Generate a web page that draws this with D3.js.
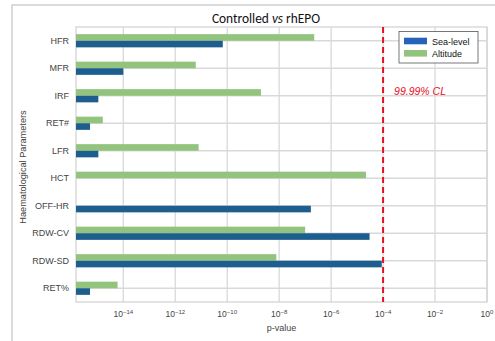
<!DOCTYPE html>
<html><head><meta charset="utf-8">
<script src="https://cdn.jsdelivr.net/npm/d3@7"></script>
<style>body{margin:0;background:#fff;} svg{display:block;}</style>
</head><body>
<script>
const categories = ["HFR","MFR","IRF","RET#","LFR","HCT","OFF-HR","RDW-CV","RDW-SD","RET%"];
// log10(p-value); null = no bar
const altitudeLog = [-6.65,-11.21,-8.70,-14.79,-11.10,-4.66,null,-7.0,-8.11,-14.22];
const seaLevelLog = [-10.17,-14.0,-14.96,-15.28,-14.96,null,-6.78,-4.52,-4.05,-15.28];
const tickExps = [-14,-12,-10,-8,-6,-4,-2,0];
const clExp = -4;
const seriesNames = ["Sea-level","Altitude"];

const W=495,H=341;
const svg=d3.select("body").append("svg").attr("width",W).attr("height",H);
const m={l:76,r:487,t:27,b:302};
const x=d3.scaleLog().domain([Math.pow(10,-15.82),1]).range([m.l,m.r]);
const y=d3.scaleBand().domain(categories).range([m.t,m.b]);
const barH=6.6;
const cBlue="#1d5e8f", cGreen="#93c47d", cLegBlue="#2563b8";

// outer frame
svg.append("rect").attr("x",12).attr("y",5).attr("width",W).attr("height",H).attr("fill","none").attr("stroke","#cfcfcf").attr("stroke-width",1.5);

// grid
const g=svg.append("g");
tickExps.forEach(e=>{
  g.append("line").attr("x1",x(Math.pow(10,e))).attr("x2",x(Math.pow(10,e))).attr("y1",m.t).attr("y2",m.b).attr("stroke","#d9d9d9").attr("stroke-width",1.3);
});
categories.forEach(c=>{
  const yc=y(c)+y.bandwidth()/2;
  g.append("line").attr("x1",m.l).attr("x2",m.r).attr("y1",yc).attr("y2",yc).attr("stroke","#d9d9d9").attr("stroke-width",1.3);
});
svg.append("rect").attr("x",m.l).attr("y",m.t).attr("width",m.r-m.l).attr("height",m.b-m.t).attr("fill","none").attr("stroke","#d4d4d4").attr("stroke-width",1.3);

// bars
const x0=x.range()[0];
categories.forEach((c,i)=>{
  const yc=y(c)+y.bandwidth()/2;
  if(altitudeLog[i]!==null){
    svg.append("rect").attr("x",x0).attr("y",yc-barH).attr("width",x(Math.pow(10,altitudeLog[i]))-x0).attr("height",barH).attr("fill",cGreen);
  }
  if(seaLevelLog[i]!==null){
    svg.append("rect").attr("x",x0).attr("y",yc).attr("width",x(Math.pow(10,seaLevelLog[i]))-x0).attr("height",barH).attr("fill",cBlue);
  }
});

// CL line
svg.append("line").attr("x1",x(Math.pow(10,clExp))).attr("x2",x(Math.pow(10,clExp))).attr("y1",m.t).attr("y2",m.b)
  .attr("stroke","#e8101f").attr("stroke-width",2).attr("stroke-dasharray","6,4");
svg.append("text").attr("x",x(Math.pow(10,clExp))+11).attr("y",94.5).attr("fill","#e8101f").attr("font-style","italic")
  .attr("font-family","Liberation Sans, Arial, sans-serif").attr("font-size",10.5).text("99.99% CL");

// y labels
const yAxis=svg.append("g").attr("font-family","Liberation Sans, Arial, sans-serif").attr("font-size",9).attr("fill","#444");
categories.forEach(c=>{
  yAxis.append("text").attr("x",69).attr("y",y(c)+y.bandwidth()/2).attr("dy","0.35em").attr("text-anchor","end").text(c);
});

// x tick labels
const xAxis=svg.append("g").attr("font-family","Liberation Sans, Arial, sans-serif").attr("fill","#444");
tickExps.forEach(e=>{
  const t=xAxis.append("text").attr("x",x(Math.pow(10,e))).attr("y",317).attr("text-anchor","middle").attr("font-size",8.5);
  t.append("tspan").text("10");
  t.append("tspan").attr("dy",-3.5).attr("font-size",6).text(e!==0 ? "\u2212"+Math.abs(e) : "0");
});
svg.append("text").attr("x",(m.l+m.r)/2).attr("y",331).attr("text-anchor","middle").attr("font-family","Liberation Sans, Arial, sans-serif")
  .attr("font-size",9).attr("fill","#444").text("p-value");
svg.append("text").attr("transform","translate(26,167) rotate(-90)").attr("text-anchor","middle").attr("font-family","Liberation Sans, Arial, sans-serif")
  .attr("font-size",9.2).attr("fill","#444").text("Haematological Parameters");

// title
const title=svg.append("text").attr("x",266).attr("y",22.5).attr("text-anchor","middle").attr("font-family","Carlito, Liberation Sans, Arial, sans-serif").attr("font-size",13.4).attr("fill","#111");
title.append("tspan").text("Controlled ");
title.append("tspan").attr("font-style","italic").text("vs");
title.append("tspan").text(" rhEPO");

// legend
const lg=svg.append("g");
lg.append("rect").attr("x",399).attr("y",31.5).attr("width",79).attr("height",31.5).attr("fill","#fff").attr("stroke","#555").attr("stroke-width",0.8);
const legColors=[cLegBlue,cGreen];
seriesNames.forEach((s,i)=>{
  lg.append("rect").attr("x",404).attr("y",37.7+i*12.3).attr("width",23).attr("height",6.6).attr("fill",legColors[i]);
  lg.append("text").attr("x",432).attr("y",44.7+i*12.3).attr("font-family","Liberation Sans, Arial, sans-serif").attr("font-size",9).attr("fill","#111").text(s);
});
</script>
</body></html>
